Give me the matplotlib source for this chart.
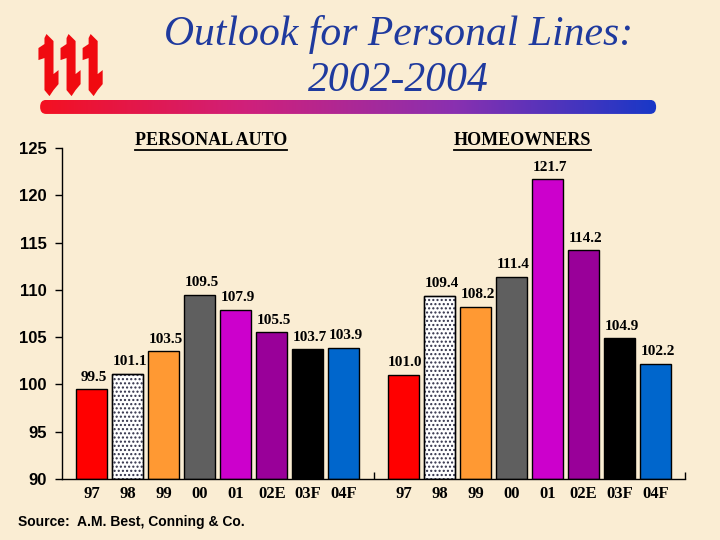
import numpy as np
import matplotlib
matplotlib.use('Agg')
import matplotlib.pyplot as plt
from matplotlib.colors import LinearSegmentedColormap
from matplotlib.patches import FancyBboxPatch, Polygon
from matplotlib.lines import Line2D

# data
categories = ['97', '98', '99', '00', '01', '02E', '03F', '04F']
segments = ['PERSONAL AUTO', 'HOMEOWNERS']
auto_values = [99.5, 101.1, 103.5, 109.5, 107.9, 105.5, 103.7, 103.9]
home_values = [101.0, 109.4, 108.2, 111.4, 121.7, 114.2, 104.9, 102.2]
y_ticks = [90, 95, 100, 105, 110, 115, 120, 125]

bar_colors = ['#FF0000', '#FFFFFF', '#FF9933', '#5F5F5F',
              '#CC00CC', '#990099', '#000000', '#0066CC']
bg = '#FAEDD3'
serif = 'Liberation Serif'
sans = 'Liberation Sans'

fig = plt.figure(figsize=(7.2, 5.4), dpi=100, facecolor=bg)

# title
fig.text(0.553, 0.937, 'Outlook for Personal Lines:', ha='center', va='center',
         family=serif, style='italic', fontsize=30, color='#1F3A9E')
fig.text(0.553, 0.851, '2002-2004', ha='center', va='center',
         family=serif, style='italic', fontsize=30, color='#1F3A9E')

# gradient rule under the title
rule = fig.add_axes([0.047, 0.789, 0.873, 0.026])
rule.set_axis_off()
cmap = LinearSegmentedColormap.from_list('rule', ['#F5101E', '#D0207A', '#8A30B0', '#1538C8'])
img = rule.imshow(np.linspace(0, 1, 256)[None, :], cmap=cmap, aspect='auto',
                  extent=(0, 1, 0, 1))
clip = FancyBboxPatch((0.01, 0.0), 0.98, 1.0, boxstyle='round,pad=0,rounding_size=0.0095',
                      transform=rule.transAxes, facecolor='none', edgecolor='none',
                      mutation_aspect=52)
rule.add_patch(clip)
img.set_clip_path(clip)
rule.set_xlim(0, 1)
rule.set_ylim(0, 1)

# iii logo
logo = fig.add_axes([0.052, 0.822, 0.092, 0.115])
logo.set_axis_off()
logo.set_xlim(0, 66)
logo.set_ylim(62, 0)
for k in range(3):
    dx = k * 22
    shape = [(9, 0), (16, 7), (16, 40), (21, 36), (21, 50), (16, 56), (12, 62),
             (7, 56), (7, 24), (1, 26), (1, 14), (7, 10), (7, 4)]
    logo.add_patch(Polygon([(x + dx, y) for x, y in shape], closed=True,
                           facecolor='#F00A10', edgecolor='none'))

# main chart
ax = fig.add_axes([0.0861, 0.1130, 0.8653, 0.6130])
ax.set_facecolor('none')
group_gap = 8.65
width = 0.86
x = np.arange(len(categories))

for g, values in enumerate([auto_values, home_values]):
    pos = x + g * group_gap
    bars = ax.bar(pos, np.array(values) - 90, bottom=90, width=width,
                  color=bar_colors, edgecolor='black', linewidth=1)
    bars[1].set_hatch('....')
    bars[1].set_edgecolor('#303048')
    ax.bar(pos[1], values[1] - 90, bottom=90, width=width, color='none',
           edgecolor='black', linewidth=1)
    for px, v in zip(pos, values):
        ax.annotate(f'{v:.1f}', (px, v), xytext=(1.5, 4), textcoords='offset points',
                    ha='center', va='bottom', family=serif, weight='bold', fontsize=11)
    ax.text(g * group_gap + 3.3, 125.74, segments[g], ha='center', va='center',
            family=serif, weight='bold', fontsize=13, clip_on=False)

ax.set_xlim(-0.83, 16.47)
ax.set_ylim(90, 125)
ax.set_yticks(y_ticks)
ax.set_yticklabels([str(t) for t in y_ticks], family=sans, weight='bold', fontsize=12)
ax.tick_params(axis='y', direction='out', length=5, width=1, pad=6)

ax.set_xticks(np.concatenate([x, x + group_gap]))
ax.set_xticklabels(categories * 2, family=serif, weight='bold', fontsize=12)
ax.tick_params(axis='x', which='major', length=0, pad=5)
ax.set_xticks([7.83, 16.47], minor=True)
ax.tick_params(axis='x', which='minor', direction='in', length=5, width=1)

for side in ['top', 'right']:
    ax.spines[side].set_visible(False)
for side in ['left', 'bottom']:
    ax.spines[side].set_linewidth(1)

fig.text(0.025, 0.033, 'Source:  A.M. Best, Conning & Co.', family=sans,
         weight='bold', fontsize=10, va='center')

# underline the segment headers
fig.canvas.draw()
renderer = fig.canvas.get_renderer()
for t in ax.texts:
    if t.get_text() in segments:
        bb = t.get_window_extent(renderer)
        y0 = (bb.y0 - 1) / fig.bbox.height
        fig.add_artist(Line2D([bb.x0 / fig.bbox.width, bb.x1 / fig.bbox.width], [y0, y0],
                              color='black', linewidth=1.3))

fig.savefig('out.png', dpi=100, facecolor=bg)
